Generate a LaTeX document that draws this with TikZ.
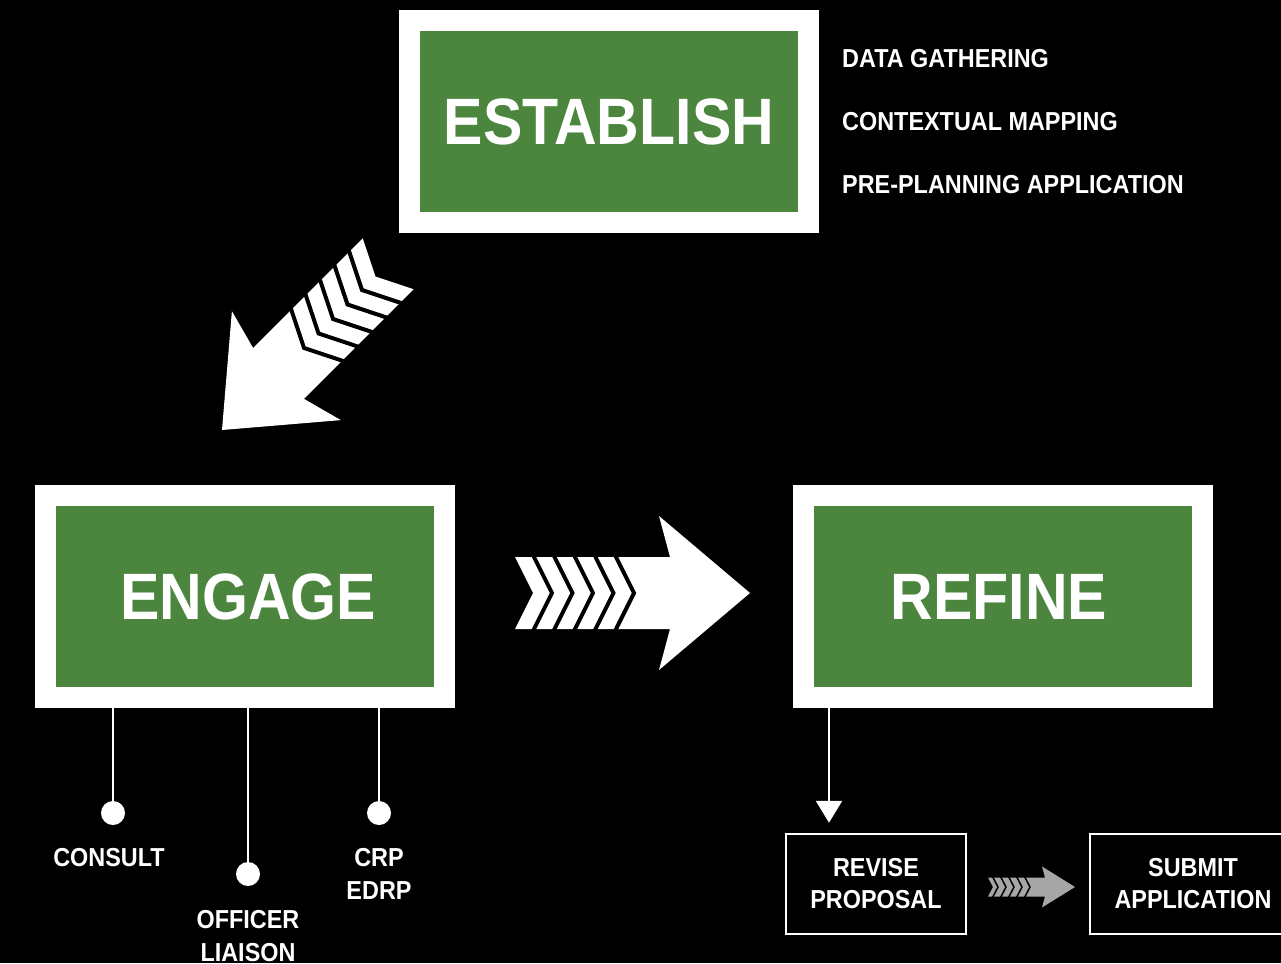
\documentclass[tikz,border=0pt]{standalone}
\usepackage{fontspec}
\setmainfont{Liberation Sans}[FakeStretch=0.9]
\usetikzlibrary{arrows.meta,calc}
\definecolor{boxgreen}{HTML}{4B853E}
\definecolor{arrowgrey}{HTML}{A6A6A6}
\tikzset{
  stage/.style={fill=boxgreen, draw=white, line width=21pt, minimum width=399pt, minimum height=202pt,
    inner sep=0pt, outer sep=0pt, text=white, font=\bfseries\fontsize{65.6}{70}\selectfont},
  side/.style={anchor=base west, text=white, inner sep=0pt, font=\bfseries\fontsize{26}{30}\selectfont},
  lbl/.style={anchor=base, text=white, inner sep=0pt, align=center, font=\bfseries\fontsize{26}{33}\selectfont},
  dotnode/.style={circle, fill=white, minimum size=24pt, inner sep=0pt},
  leg/.style={white, line width=2.5pt},
  smallbox/.style={draw=white, line width=2.5pt, minimum width=180pt, minimum height=100pt, text=white,
    align=center, font=\bfseries\fontsize{26}{32}\selectfont, inner sep=0pt},
  chevarrow/.pic={
    \fill[white] (0,0) -- (-91,77) -- (-80,36) -- (-235,36) -- (-217,0) -- (-235,-36)
      -- (-80,-36) -- (-91,-77) -- cycle;
    \foreach \k in {0,...,4}
      \draw[black, line width=4pt] (-218+20.5*\k,40) -- (-198+20.5*\k,0) -- (-218+20.5*\k,-40);
  },
  smallchev/.pic={
    \fill[arrowgrey] (0,0) -- (-33,20.5) -- (-30,9.5) -- (-87,9.5) -- (-82,0) -- (-87,-9.5)
      -- (-30,-9.5) -- (-33,-20.5) -- cycle;
    \foreach \k in {0,...,4}
      \draw[black, line width=1.5pt] (-82.5+8*\k,10.5) -- (-77+8*\k,0) -- (-82.5+8*\k,-10.5);
  }
}
\begin{document}
\begin{tikzpicture}[x=1pt,y=-1pt]
\fill[black] (0,0) rectangle (1281,963);
\useasboundingbox (0,0) rectangle (1281,963);
\clip (0,0) rectangle (1281,963);

% main stages
\node[stage] (establish) at (609,121.5) {ESTABLISH};
\node[stage] (engage) at (245,596.5) {\hspace*{6pt}ENGAGE};
\node[stage] (refine) at (1003,596.5) {\hspace*{-8pt}REFINE};

% side list
\node[side] (s1) at (842,68) {DATA GATHERING};
\node[side] (s2) at (842,130) {CONTEXTUAL MAPPING};
\node[side] (s3) at (842,193) {PRE-PLANNING APPLICATION};

% big chevron arrows
\pic[rotate=225] at (222,430) {chevarrow};
\pic at (750,593) {chevarrow};

% engage legs
\node[dotnode] (d1) at (113,813) {};
\node[dotnode] (d2) at (248,874) {};
\node[dotnode] (d3) at (379,813) {};
\draw[leg] (engage.south -| d1) -- (d1);
\draw[leg] (engage.south -| d2) -- (d2);
\draw[leg] (engage.south -| d3) -- (d3);
\node[lbl] (l1) at (109,866) {CONSULT};
\node[lbl] (l2) at (248,961) {OFFICER\\LIAISON};
\node[lbl] (l3) at (379,899) {CRP\\EDRP};

% refine branch
\node[smallbox] (revise) at (876,884) {REVISE\\PROPOSAL};
\node[smallbox, minimum width=206pt] (submit) at (1193,884) {SUBMIT\\APPLICATION};
\coordinate (rx) at (829,0);
\draw[white, line width=2.5pt, -{Triangle[width=26pt,length=22pt]}, shorten >=10pt]
  (refine.south -| rx) -- (revise.north -| rx);
\pic at (1075,887) {smallchev};
\end{tikzpicture}
\end{document}
